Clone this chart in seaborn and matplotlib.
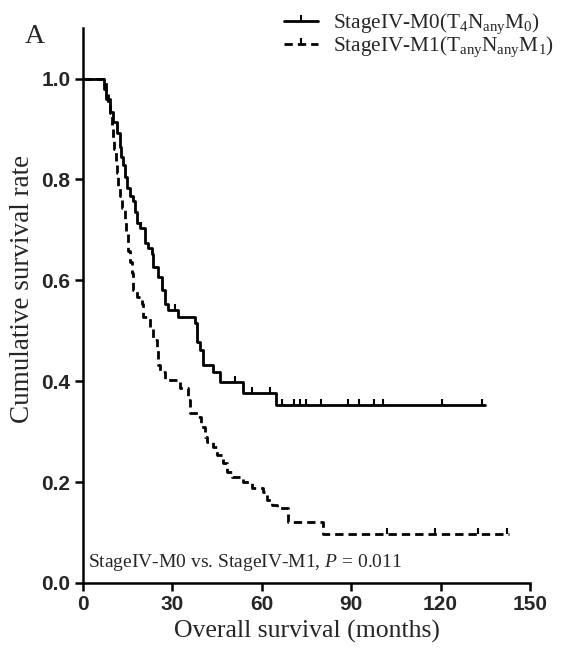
import numpy as np
import pandas as pd
import matplotlib
matplotlib.use("Agg")
import matplotlib.pyplot as plt
from matplotlib.lines import Line2D
import seaborn as sns

# ---- data ----
m0_times = [0, 7.05, 7.72, 9.06, 10.07, 11.41, 12.42, 12.75, 13.42, 14.09, 14.77, 15.77,
            16.78, 17.45, 18.12, 19.13, 20.81, 21.81, 23.15, 23.49, 25.17, 26.51, 27.52,
            28.52, 31.88, 37.58, 38.26, 39.26, 40.27, 43.62, 45.97, 53.69, 64.77, 135.0]
m0_surv = [1.0, 0.980, 0.960, 0.933, 0.913, 0.893, 0.865, 0.844, 0.828, 0.804, 0.784, 0.768,
           0.758, 0.735, 0.713, 0.703, 0.675, 0.665, 0.653, 0.626, 0.606, 0.580, 0.554,
           0.541, 0.527, 0.515, 0.477, 0.461, 0.432, 0.418, 0.398, 0.376, 0.352, 0.352]
m0_cens_t = [19.5, 31.0, 51.0, 56.7, 62.8, 66.7, 70.9, 72.8, 74.8, 79.8, 88.8, 92.7,
             97.7, 100.6, 120.5, 134.0]

m1_times = [0, 7.72, 8.39, 9.06, 9.73, 10.07, 10.40, 11.07, 11.41, 11.74, 12.42, 13.09,
            14.09, 14.43, 15.10, 15.77, 16.44, 16.78, 18.12, 19.80, 20.13, 22.48, 23.49,
            24.83, 25.17, 25.84, 27.52, 32.55, 35.23, 35.91, 38.59, 39.60, 40.94, 41.61,
            43.62, 44.97, 46.98, 48.32, 50.00, 53.69, 56.71, 60.40, 61.74, 63.42, 65.10,
            68.79, 80.54, 143.0]
m1_surv = [1.0, 0.972, 0.950, 0.931, 0.901, 0.883, 0.861, 0.834, 0.812, 0.784, 0.768, 0.743,
           0.719, 0.693, 0.659, 0.636, 0.614, 0.580, 0.566, 0.554, 0.527, 0.507, 0.481,
           0.465, 0.432, 0.418, 0.402, 0.386, 0.362, 0.337, 0.329, 0.309, 0.289, 0.279,
           0.269, 0.253, 0.238, 0.220, 0.210, 0.200, 0.188, 0.180, 0.164, 0.154, 0.149,
           0.121, 0.097, 0.097]
m1_cens_t = [102.0, 118.0, 132.6, 142.3]

x_ticks = [0, 30, 60, 90, 120, 150]
y_ticks = [0.0, 0.2, 0.4, 0.6, 0.8, 1.0]
y_ticklabels = ["0.0", "0.2", "0.4", "0.6", "0.8", "1.0"]

label_m0 = r"StageIV-M0($\mathregular{T_4N_{any}M_0}$)"
label_m1 = r"StageIV-M1($\mathregular{T_{any}N_{any}M_1}$)"


def surv_at(times, surv, t):
    idx = np.searchsorted(times, t, side="right") - 1
    return surv[idx]


sns.set_theme(style="white")
plt.rcParams["font.family"] = ["Liberation Serif", "DejaVu Serif"]
plt.rcParams["mathtext.fontset"] = "custom"
plt.rcParams["mathtext.rm"] = "Liberation Serif"
plt.rcParams["mathtext.it"] = "Liberation Serif:italic"

fig = plt.figure(figsize=(5.85, 6.55), dpi=100)
ax = fig.add_axes([0.142, 0.110, 0.764, 0.847])

LW = 2.0
CENS_MS = 4.5
df0 = pd.DataFrame({"t": m0_times, "s": m0_surv})
df1 = pd.DataFrame({"t": m1_times, "s": m1_surv})
sns.lineplot(data=df0, x="t", y="s", ax=ax, color="black", lw=LW,
             drawstyle="steps-post", estimator=None, sort=False)
sns.lineplot(data=df1, x="t", y="s", ax=ax, color="black", lw=LW,
             linestyle=(0, (3.0, 1.8)), drawstyle="steps-post", estimator=None, sort=False)

c0 = pd.DataFrame({"t": m0_cens_t,
                   "s": [surv_at(np.array(m0_times), np.array(m0_surv), t) for t in m0_cens_t]})
c1 = pd.DataFrame({"t": m1_cens_t,
                   "s": [surv_at(np.array(m1_times), np.array(m1_surv), t) for t in m1_cens_t]})
ax.plot(c0["t"], c0["s"], linestyle="none", marker=2, markersize=CENS_MS,
        markeredgewidth=1.5, color="black")
ax.plot(c1["t"], c1["s"], linestyle="none", marker=2, markersize=CENS_MS,
        markeredgewidth=1.5, color="black")

ax.set_xlim(0, 150)
ax.set_ylim(0, 1.1)
ax.set_xticks(x_ticks)
ax.set_yticks(y_ticks)
ax.set_yticklabels(y_ticklabels)
for lab in ax.get_xticklabels() + ax.get_yticklabels():
    lab.set_fontfamily("Liberation Sans")
    lab.set_fontweight("bold")
    lab.set_fontsize(15)
ax.tick_params(axis="both", which="major", direction="out", length=6, width=1.8,
               color="black", bottom=True, left=True, pad=3)
for side in ["top", "right"]:
    ax.spines[side].set_visible(False)
for side in ["left", "bottom"]:
    ax.spines[side].set_linewidth(1.8)
    ax.spines[side].set_color("black")

ax.set_xlabel("Overall survival (months)", fontsize=18.5, labelpad=4)
ax.set_ylabel("Cumulative survival rate", fontsize=19.5, labelpad=4)
ax.yaxis.set_label_coords(-0.108, 0.53)

ax.text(0.01, 0.018, r"StageIV-M0 vs. StageIV-M1, $\it{P}$ = 0.011", transform=ax.transAxes,
        fontsize=14, ha="left", va="bottom")
fig.text(0.043, 0.935, "A", fontsize=20, ha="left", va="baseline")

handles = [Line2D([], [], color="black", lw=LW, marker=2, markersize=CENS_MS, markeredgewidth=1.5),
           Line2D([], [], color="black", lw=LW, linestyle=(0, (3.0, 1.8)), marker=2,
                  markersize=CENS_MS, markeredgewidth=1.5)]
fig.legend(handles, [label_m0, label_m1], loc="upper left", bbox_to_anchor=(0.465, 1.0),
           frameon=False, fontsize=15.3, handlelength=1.6, handletextpad=0.7,
           labelspacing=-0.08, borderaxespad=0.15, numpoints=1)

fig.savefig("out.png", dpi=100)
